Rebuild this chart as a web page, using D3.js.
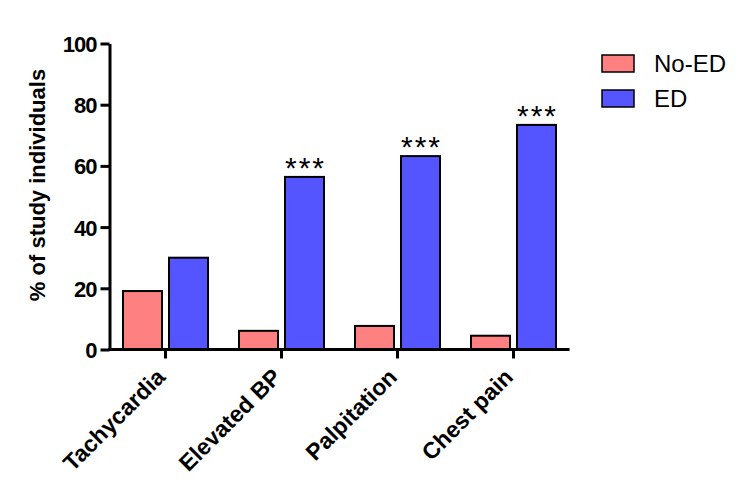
<!DOCTYPE html>
<html><head><meta charset="utf-8">
<script src="https://cdn.jsdelivr.net/npm/d3@7"></script>
<style>
body{margin:0;background:#fff;}
text{font-family:"Liberation Sans",Arial,sans-serif;}
</style></head>
<body><svg id="c" width="750" height="488"></svg>
<script>
const categories = ["Tachycardia","Elevated BP","Palpitation","Chest pain"];
const seriesNames = ["No-ED","ED"];
const noED = [19.1, 6.1, 7.7, 4.5];
const ED = [30.0, 56.4, 63.2, 73.4];
const significance = ["", "***", "***", "***"];
const yTicks = [0,20,40,60,80,100];
const colors = ["#FF8080","#5555FF"];

const svg = d3.select("#c");
const x0 = 109.5, x1 = 569.5, yTop = 43.5, yBot = 349.5;
const x = d3.scaleBand().domain(categories).range([x0 - 2, x1 + 2]).paddingInner(0).paddingOuter(0);
const y = d3.scaleLinear().domain([0,100]).range([yBot, yTop]);
const sub = d3.scaleBand().domain(seriesNames).range([-42.5, 42.5]).paddingInner(0.152);

const data = categories.map((c,i)=>({c, vals:[noED[i], ED[i]], sig:significance[i]}));
const g = svg.append("g");
data.forEach(d=>{
  const cx = x(d.c) + x.bandwidth()/2;
  seriesNames.forEach((s,j)=>{
    g.append("rect")
      .attr("x", cx + sub(s))
      .attr("width", sub.bandwidth())
      .attr("y", y(d.vals[j]))
      .attr("height", y(0)-y(d.vals[j]))
      .attr("fill", colors[j]).attr("stroke","#000").attr("stroke-width",2);
  });
  if(d.sig){
    g.append("text").attr("x", cx + sub("ED") + sub.bandwidth()/2 + 1)
      .attr("y", y(d.vals[1]) + 1)
      .attr("text-anchor","middle").attr("font-size",30).attr("letter-spacing","2px").attr("fill","#000")
      .text(d.sig);
  }
});

// y axis
const ya = svg.append("g").attr("transform",`translate(${x0},0)`)
  .call(d3.axisLeft(y).tickValues(yTicks).tickSize(9).tickPadding(4).tickSizeOuter(0));
ya.select(".domain").attr("stroke","#000").attr("stroke-width",3);
ya.selectAll(".tick line").attr("stroke","#000").attr("stroke-width",3);
ya.selectAll(".tick text").attr("font-size",22).attr("font-weight","bold").attr("fill","#000")
  .attr("letter-spacing","-1px")
  .attr("dy","0.36em").style("font-family","'Liberation Sans',Arial,sans-serif");

// x axis
const xa = svg.append("g").attr("transform",`translate(0,${yBot})`)
  .call(d3.axisBottom(x).tickSize(9).tickSizeOuter(0).tickFormat(""));
xa.select(".domain").attr("stroke","#000").attr("stroke-width",3).attr("d",`M${x0-1.5},0H${x1}`);
xa.selectAll(".tick line").attr("stroke","#000").attr("stroke-width",3);
xa.selectAll(".tick").append("text")
  .attr("transform","translate(1,29) rotate(-45)")
  .attr("text-anchor","end").attr("font-size",23).attr("font-weight","bold").attr("fill","#000")
  .text(d=>d);

// y label
svg.append("text").attr("transform",`translate(45,185) rotate(-90)`)
  .attr("text-anchor","middle").attr("font-size",22).attr("font-weight","bold").attr("fill","#000")
  .text("% of study individuals");

// legend
const lg = svg.append("g").attr("transform","translate(602,55)");
seriesNames.forEach((s,j)=>{
  lg.append("rect").attr("x",0).attr("y",j*35).attr("width",32).attr("height",17)
    .attr("fill",colors[j]).attr("stroke","#000").attr("stroke-width",1.5);
  lg.append("text").attr("x",52).attr("y",j*35+8.5).attr("dy","0.36em")
    .attr("font-size",24).attr("fill","#000").text(s);
});
</script></body></html>
